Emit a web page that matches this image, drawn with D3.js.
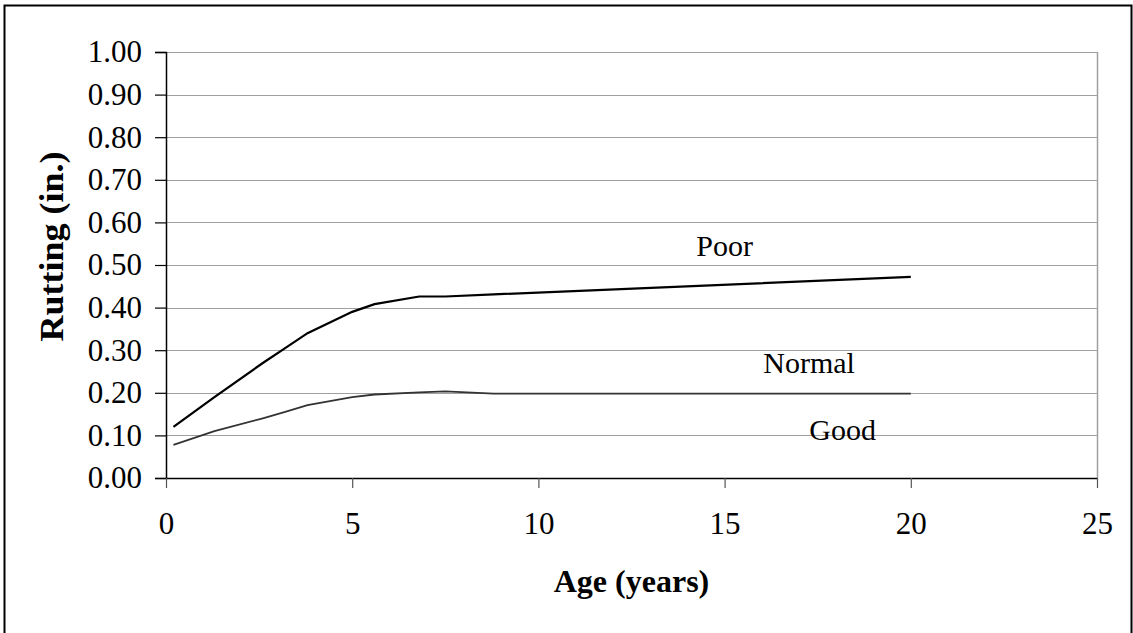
<!DOCTYPE html>
<html><head><meta charset="utf-8">
<script src="https://cdn.jsdelivr.net/npm/d3@7/dist/d3.min.js"></script>
<style>
html,body{margin:0;padding:0;background:#fff;}
svg text{font-family:"Liberation Serif","Times New Roman",serif;fill:#000;}
</style></head>
<body>
<svg id="chart" width="1133" height="633"></svg>
<script>
const ages = [0.2, 1.3, 2.6, 3.2, 3.8, 5.0, 5.6, 6.8, 7.5, 8.8, 20];
const poorValues = [0.12, 0.19, 0.27, 0.305, 0.34, 0.39, 0.408, 0.426, 0.426, 0.431, 0.472];
const goodValues = [0.078, 0.11, 0.14, 0.155, 0.171, 0.19, 0.196, 0.201, 0.2035, 0.198, 0.198];
const xTicks = [0, 5, 10, 15, 20, 25];
const yTicks = [0, 0.1, 0.2, 0.3, 0.4, 0.5, 0.6, 0.7, 0.8, 0.9, 1.0];
const labelNames = ["Poor", "Normal", "Good"];
const labelAges = [15.0, 17.27, 18.17];
const labelValues = [0.521, 0.246, 0.089];
const xTitle = "Age (years)";
const yTitle = "Rutting (in.)";

const svg = d3.select("#chart");
const L = 166, R = 1097, T = 52, B = 478;
const x = d3.scaleLinear().domain([0, 25]).range([L, R]);
const y = d3.scaleLinear().domain([0, 1]).range([B, T]);

// outer frame
svg.append("rect").attr("x", 4.5).attr("y", 5.5).attr("width", 1127).attr("height", 640)
  .attr("fill", "none").attr("stroke", "#000").attr("stroke-width", 2);

// gridlines
svg.append("g").selectAll("line").data(yTicks.filter(d => d > 0)).join("line")
  .attr("x1", L).attr("x2", R).attr("y1", d => Math.round(y(d)) + 0.5).attr("y2", d => Math.round(y(d)) + 0.5)
  .attr("stroke", "#a0a0a0").attr("stroke-width", 1);
// right border of plot area
svg.append("line").attr("x1", R + 0.5).attr("x2", R + 0.5).attr("y1", T).attr("y2", B)
  .attr("stroke", "#a0a0a0").attr("stroke-width", 1.5);

// y axis
const yAxis = d3.axisLeft(y).tickValues(yTicks).tickFormat(d3.format(".2f")).tickSize(11).tickPadding(13);
const gy = svg.append("g").attr("transform", `translate(${L},0)`).call(yAxis);
gy.select(".domain").attr("stroke", "#000").attr("stroke-width", 1.5);
gy.selectAll(".tick line").attr("stroke", "#000").attr("stroke-width", 1.2);
gy.selectAll("text").attr("font-size", 31).attr("font-family", "Liberation Serif").attr("fill", "#000");

// x axis
const xAxis = d3.axisBottom(x).tickValues(xTicks).tickFormat(d3.format("d")).tickSize(10).tickPadding(24).tickSizeOuter(0);
const gx = svg.append("g").attr("transform", `translate(0,${B})`).call(xAxis);
gx.select(".domain").attr("stroke", "#000").attr("stroke-width", 1.5);
gx.selectAll(".tick line").attr("stroke", "#555").attr("stroke-width", 1.2);
gx.selectAll("text").attr("font-size", 31).attr("font-family", "Liberation Serif").attr("fill", "#000");

// lines
const line = d3.line().x(d => x(d[0])).y(d => y(d[1]));
svg.append("path").datum(ages.map((a, i) => [a, goodValues[i]])).attr("d", line)
  .attr("fill", "none").attr("stroke", "#333").attr("stroke-width", 1.8);
svg.append("path").datum(ages.map((a, i) => [a, poorValues[i]])).attr("d", line)
  .attr("fill", "none").attr("stroke", "#000").attr("stroke-width", 2.2);

// annotations
svg.append("g").selectAll("text").data(labelNames).join("text")
  .attr("x", (d, i) => x(labelAges[i])).attr("y", (d, i) => y(labelValues[i]))
  .attr("text-anchor", "middle").attr("font-size", 30).text(d => d);

// titles
svg.append("text").attr("x", (L + R) / 2).attr("y", 592).attr("text-anchor", "middle")
  .attr("font-size", 32).attr("font-weight", "bold").text(xTitle);
svg.append("text").attr("transform", "translate(63,246.5) rotate(-90)").attr("text-anchor", "middle")
  .attr("font-size", 33).attr("font-weight", "bold")
  .attr("textLength", 190).attr("lengthAdjust", "spacingAndGlyphs").text(yTitle);
</script>
</body></html>
